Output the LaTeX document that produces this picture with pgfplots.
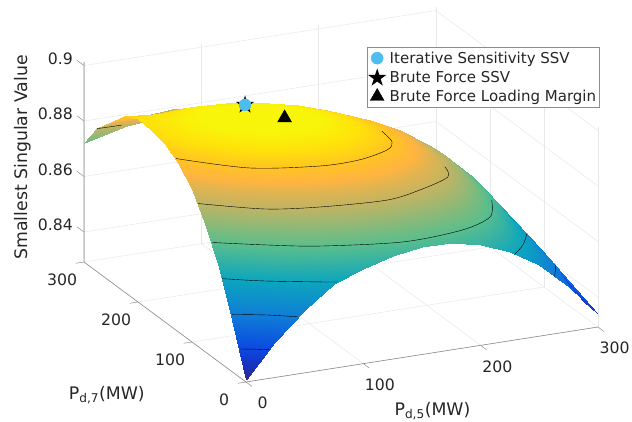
\documentclass[border=0pt]{standalone}
\usepackage{pgfplots}
\usepackage{pgfplotstable}
\usepackage{fontspec}
\setmainfont{DejaVu Sans}
\pgfplotsset{compat=1.18}
\definecolor{tk}{HTML}{262626}
\definecolor{ax}{HTML}{8C8C8C}
\definecolor{gr}{HTML}{E8E8E8}
\definecolor{dot}{HTML}{4DBDEE}
\pgfdeclareplotmark{fstar}{%
 \pgfpathmoveto{\pgfpointpolar{90}{\pgfplotmarksize}}%
 \pgfpathlineto{\pgfpointpolar{126}{0.382\pgfplotmarksize}}%
 \pgfpathlineto{\pgfpointpolar{162}{\pgfplotmarksize}}%
 \pgfpathlineto{\pgfpointpolar{198}{0.382\pgfplotmarksize}}%
 \pgfpathlineto{\pgfpointpolar{234}{\pgfplotmarksize}}%
 \pgfpathlineto{\pgfpointpolar{270}{0.382\pgfplotmarksize}}%
 \pgfpathlineto{\pgfpointpolar{306}{\pgfplotmarksize}}%
 \pgfpathlineto{\pgfpointpolar{342}{0.382\pgfplotmarksize}}%
 \pgfpathlineto{\pgfpointpolar{18}{\pgfplotmarksize}}%
 \pgfpathlineto{\pgfpointpolar{54}{0.382\pgfplotmarksize}}%
 \pgfpathclose\pgfusepathqfill}
\pgfplotstableread{
x y z
0 0 .8300
0 25 .8481
0 50 .8634
0 75 .8754
0 100 .8842
0 125 .8901
0 150 .8934
0 175 .8944
0 200 .8950
0 225 .8925
0 250 .8870
0 275 .8810
0 300 .8722
25 0 .8420
25 25 .8591
25 50 .8727
25 75 .8831
25 100 .8906
25 125 .8953
25 150 .8975
25 175 .8975
25 200 .8955
25 225 .8918
25 250 .8866
25 275 .8802
25 300 .8757
50 0 .8520
50 25 .8674
50 50 .8796
50 75 .8886
50 100 .8948
50 125 .8985
50 150 .8998
50 175 .8990
50 200 .8964
50 225 .8922
50 250 .8866
50 275 .8810
50 300 .8785
75 0 .8594
75 25 .8734
75 50 .8841
75 75 .8920
75 100 .8972
75 125 .8999
75 150 .9004
75 175 .8990
75 200 .8959
75 225 .8914
75 250 .8857
75 275 .8815
75 300 .8795
100 0 .8633
100 25 .8770
100 50 .8866
100 75 .8935
100 100 .8977
100 125 .8997
100 150 .8996
100 175 .8978
100 200 .8944
100 225 .8897
100 250 .8839
100 275 .8800
100 300 .8780
125 0 .8664
125 25 .8786
125 50 .8872
125 75 .8932
125 100 .8967
125 125 .8981
125 150 .8976
125 175 .8954
125 200 .8918
125 225 .8871
125 250 .8815
125 275 .8775
125 300 .8760
150 0 .8680
150 25 .8783
150 50 .8860
150 75 .8913
150 100 .8942
150 125 .8952
150 150 .8944
150 175 .8921
150 200 .8886
150 225 .8840
150 250 .8787
150 275 .8750
150 300 .8735
175 0 .8678
175 25 .8763
175 50 .8833
175 75 .8880
175 100 .8905
175 125 .8912
175 150 .8903
175 175 .8880
175 200 .8846
175 225 .8804
175 250 .8755
175 275 .8715
175 300 .8700
200 0 .8655
200 25 .8730
200 50 .8787
200 75 .8830
200 100 .8853
200 125 .8859
200 150 .8850
200 175 .8830
200 200 .8799
200 225 .8761
200 250 .8719
200 275 .8674
200 300 .8650
225 0 .8611
225 25 .8670
225 50 .8717
225 75 .8758
225 100 .8780
225 125 .8787
225 150 .8780
225 175 .8762
225 200 .8737
225 225 .8705
225 250 .8671
225 275 .8636
225 300 .8602
250 0 .8547
250 25 .8590
250 50 .8624
250 75 .8660
250 100 .8680
250 125 .8690
250 150 .8686
250 175 .8674
250 200 .8655
250 225 .8637
250 250 .8612
250 275 .8588
250 300 .8567
275 0 .8451
275 25 .8495
275 50 .8515
275 75 .8532
275 100 .8542
275 125 .8553
275 150 .8560
275 175 .8563
275 200 .8563
275 225 .8560
275 250 .8546
275 275 .8534
275 300 .8526
300 0 .8340
300 25 .8345
300 50 .8365
300 75 .8395
300 100 .8415
300 125 .8430
300 150 .8445
300 175 .8455
300 200 .8465
300 225 .8465
300 250 .8465
300 275 .8465
300 300 .8465
}\surfdata
\begin{document}
\begin{tikzpicture}
\path[use as bounding box] (0,0) rectangle (632pt,421pt);
\begin{axis}[
 at={(246pt,39pt)}, anchor=origin,
 x={(1.1733pt,0.1833pt)}, y={(-0.54pt,0.4pt)}, z={(0pt,2775pt)},
 xmin=0,xmax=300,ymin=0,ymax=300,zmin=0.8292,zmax=0.9013,
 xtick={0,100,200,300},ytick={0,100,200,300},ztick={0.84,0.86,0.88,0.9},
 zticklabels={0.84,0.86,0.88,0.9},
 /pgf/number format/assume math mode=true,
 clip=false,
 axis line style={draw=none},
 grid=major, grid style={gr,line width=0.5pt},
 tick style={draw=none},
 tick align=outside, major tick length=7pt,
 xtick pos=left, ytick pos=left, ztick pos=left,
 tick label style={font=\fontsize{15.7}{18}\selectfont,text=tk},
 xticklabel style={anchor=center,xshift=11pt,yshift=-17pt},
 yticklabel style={anchor=center,xshift=-15pt,yshift=-17pt},
 zticklabel style={anchor=east,xshift=-2pt,yshift=3pt},
 label style={font=\fontsize{17.3}{20}\selectfont,text=tk},
 xlabel={P\textsubscript{d,5}(MW)},
 ylabel={P\textsubscript{d,7}(MW)},
 zlabel={Smallest Singular Value},
 xlabel style={xshift=-18pt,yshift=0pt},
 ylabel style={xshift=-4pt,yshift=-10pt},
 zlabel style={xshift=-11pt,yshift=-2pt},
 colormap={ssv}{
  rgb255(8292)=(53,42,135)
  rgb255(8345)=(25,50,190)
  rgb255(8395)=(12,72,225)
  rgb255(8498)=(15,125,215)
  rgb255(8601)=(12,165,190)
  rgb255(8704)=(90,190,140)
  rgb255(8807)=(190,180,100)
  rgb255(8850)=(225,180,80)
  rgb255(8875)=(255,180,65)
  rgb255(8910)=(255,195,35)
  rgb255(8950)=(255,225,10)
  rgb255(8985)=(248,245,10)
  rgb255(9010)=(248,245,10)
 },
 point meta min=0.8292, point meta max=0.9010,
 legend style={at={(axis cs:103.1,0,0.9431)},anchor=north west,draw=ax,
   font=\fontsize{15}{18}\selectfont,text=tk,inner xsep=1pt,inner ysep=2.5pt,row sep=1.8pt,column sep=1.5pt},
 legend cell align=left,
 legend image code/.code={\draw[#1] plot coordinates {(0pt,0pt)};},
]
\addplot3[surf,shader=interp,z buffer=sort,mesh/rows=13,mesh/cols=13,forget plot] table[x=x,y=y,z=z] {\surfdata};
% axis lines and ticks
\addplot3[ax,line width=0.6pt,forget plot] coordinates {(300,0,0.8292)(0,0,0.8292)(0,300,0.8292)(0,300,0.9013)};
\addplot3[ax,line width=0.5pt,forget plot] coordinates {(0,0,.8292)(0,-11,.8292)};
\addplot3[ax,line width=0.5pt,forget plot] coordinates {(100,0,.8292)(100,-11,.8292)};
\addplot3[ax,line width=0.5pt,forget plot] coordinates {(200,0,.8292)(200,-11,.8292)};
\addplot3[ax,line width=0.5pt,forget plot] coordinates {(300,0,.8292)(300,-11,.8292)};
\addplot3[ax,line width=0.5pt,forget plot] coordinates {(0,0,.8292)(-7,0,.8292)};
\addplot3[ax,line width=0.5pt,forget plot] coordinates {(0,100,.8292)(-7,100,.8292)};
\addplot3[ax,line width=0.5pt,forget plot] coordinates {(0,200,.8292)(-7,200,.8292)};
\addplot3[ax,line width=0.5pt,forget plot] coordinates {(0,300,.8292)(-7,300,.8292)};
\addplot3[ax,line width=0.5pt,forget plot] coordinates {(0,300,.84)(0,313,.84)};
\addplot3[ax,line width=0.5pt,forget plot] coordinates {(0,300,.86)(0,313,.86)};
\addplot3[ax,line width=0.5pt,forget plot] coordinates {(0,300,.88)(0,313,.88)};
\addplot3[ax,line width=0.5pt,forget plot] coordinates {(0,300,.9)(0,313,.9)};
% contour lines
\addplot3[black,line width=0.4pt,smooth,forget plot] coordinates {(0,11,.8395)(10,6,.8395)(20,0,.8395)};
\addplot3[black,line width=0.4pt,smooth,forget plot] coordinates {(0,26,.8498)(24,13.6,.8498)(44,0,.8498)};
\addplot3[black,line width=0.4pt,smooth,forget plot] coordinates {(0,44,.8601)(27,25.9,.8601)(65.7,5.7,.8601)(78,0,.8601)};
\addplot3[black,line width=0.4pt,smooth,forget plot] coordinates {(0,63,.8704)(36.3,40.1,.8704)(72,21,.8704)(135,2.5,.8704)(188,8,.8704)(220,26,.8704)(237,60,.8704)};
\addplot3[black,line width=0.4pt,smooth,forget plot] coordinates {(0,89,.8807)(42,56,.8807)(82.6,42.4,.8807)(136,35,.8807)(169,45.3,.8807)(201,63,.8807)(208.6,85,.8807)};
\addplot3[black,line width=0.4pt,smooth,forget plot] coordinates {(0,130,.8910)(43,86.6,.8910)(94.5,68,.8910)(128,68,.8910)(157,79.6,.8910)(168,94.5,.8910)(171,120,.8910)};
\addplot3[black,line width=0.4pt,smooth,forget plot] coordinates {(229,0,.8601)(243.7,16.6,.8601)(258,40,.8601)};
\addplot3[black,line width=0.4pt,smooth,forget plot] coordinates {(263,0,.8498)(272,17.6,.8498)(276,28,.8498)};
\addplot3[black,line width=0.4pt,forget plot] coordinates {(0,276,.8807)(32,300,.8764)};
% markers
\addplot3[only marks,mark=fstar,mark size=9.5pt,black,forget plot] coordinates {(91.5,200.6,.8941)};
\addplot3[only marks,mark=triangle*,mark size=8pt,black,forget plot] coordinates {(107,161,.8941)};
\addplot3[only marks,mark=*,mark size=6pt,dot,mark options={draw=dot,fill=dot},forget plot] coordinates {(91.5,200.6,.8941)};
\addlegendimage{only marks,mark=*,mark size=6pt,dot,mark options={draw=dot,fill=dot}}
\addlegendentry{Iterative Sensitivity SSV}
\addlegendimage{only marks,mark=fstar,mark size=9.5pt,black}
\addlegendentry{Brute Force SSV}
\addlegendimage{only marks,mark=triangle*,mark size=8pt,black}
\addlegendentry{Brute Force Loading Margin}
\end{axis}
\end{tikzpicture}
\end{document}
